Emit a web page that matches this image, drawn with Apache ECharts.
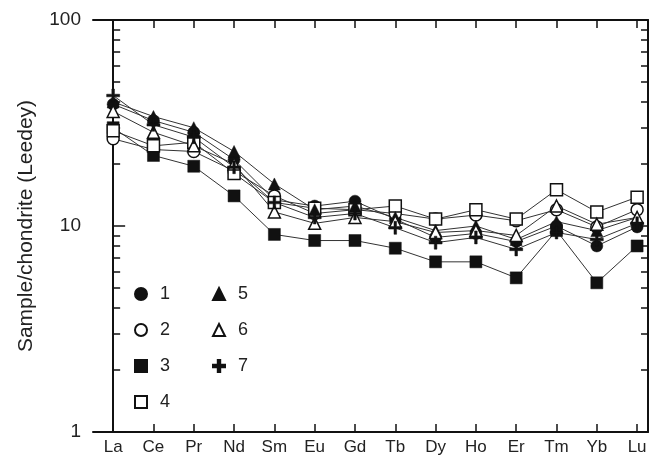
<!DOCTYPE html>
<html>
<head>
<meta charset="utf-8">
<script src="https://cdn.jsdelivr.net/npm/echarts@6/dist/echarts.min.js"></script>
<style>html,body{margin:0;padding:0;background:#fff}#c{width:654px;height:465px}</style>
</head>
<body>
<div id="c"></div>
<script>
const elements = ['La','Ce','Pr','Nd','Sm','Eu','Gd','Tb','Dy','Ho','Er','Tm','Yb','Lu'];
const s1 = [39, 32.5, 28.5, 21, 13.4, 12.5, 13.2, 10.8, 8.8, 9.2, 8.4, 10, 8.0, 9.9];
const s2 = [26.5, 23.5, 23, 18.5, 14, 11.5, 12, 11.5, 10.8, 11.3, 10.6, 12, 9.9, 12];
const s3 = [30, 22, 19.5, 14, 9.1, 8.5, 8.5, 7.8, 6.7, 6.7, 5.6, 9.5, 5.3, 8.0];
const s4 = [29, 24.5, 25.5, 18, 13, 12.2, 12, 12.5, 10.8, 12, 10.8, 15, 11.7, 13.8];
const s5 = [40, 34, 30, 23, 16, 12, 12.5, 11, 9.5, 10, 8.6, 10.5, 9.5, 11];
const s6 = [36, 28.5, 24.5, 20, 11.7, 10.3, 11, 10.5, 9.3, 9.5, 9, 12.5, 10.2, 11];
const s7 = [43, 31, 27, 19.3, 13, 11, 11.5, 9.8, 8.3, 8.8, 7.7, 9.3, 8.6, 10.3];
const yMajor = [1, 10, 100];
const yMinor = [2,3,4,5,6,7,8,9,20,30,40,50,60,70,80,90];

const plus = 'path://M4,0H6V4H10V6H6V10H4V6H0V4H4Z';
const defs = [
  {name:'1', data:s1, symbol:'circle', fill:'#111'},
  {name:'2', data:s2, symbol:'circle', fill:'#fff'},
  {name:'3', data:s3, symbol:'rect', fill:'#111'},
  {name:'4', data:s4, symbol:'rect', fill:'#fff'},
  {name:'5', data:s5, symbol:'triangle', fill:'#111'},
  {name:'6', data:s6, symbol:'triangle', fill:'#fff'},
  {name:'7', data:s7, symbol:plus, fill:'#111'}
];
const idx = elements.map((_, i) => i);
const font = 'Liberation Sans, Arial, sans-serif';

const series = defs.map(d => ({
  name: d.name, type: 'line',
  data: d.data.map((v, i) => [i, v]),
  symbol: d.symbol,
  symbolSize: d.symbol === plus ? 13 : 12,
  lineStyle: {color: '#333', width: 1},
  itemStyle: {color: d.fill, borderColor: '#111', borderWidth: d.fill === '#fff' ? 1.5 : 0.5},
  emphasis: {disabled: true},
  animation: false
}));

const legendCommon = {
  orient: 'vertical', itemWidth: 12, itemHeight: 12, itemGap: 18,
  textStyle: {fontFamily: font, fontSize: 18, color: '#222', padding: [0, 0, 0, 8]},
  selectedMode: false
};

const chart = echarts.init(document.getElementById('c'));
chart.setOption({
  animation: false,
  backgroundColor: '#fff',
  grid: {left: 93, right: 6, top: 20, bottom: 33},
  legend: [
    Object.assign({left: 129, top: 280, data: defs.slice(0,4).map(d => ({name: d.name, icon: d.symbol}))}, legendCommon),
    Object.assign({left: 207, top: 280, data: defs.slice(4).map(d => ({name: d.name, icon: d.symbol}))}, legendCommon)
  ],
  xAxis: [
    {type: 'value', min: -0.5, max: 13.27, position: 'bottom',
     axisLine: {show: true, lineStyle: {color: '#111', width: 2}},
     axisTick: {show: true, inside: true, length: 8, customValues: idx, lineStyle: {color: '#111', width: 1.5}},
     axisLabel: {customValues: idx, formatter: v => elements[Math.round(v)], margin: 7,
                 fontFamily: font, fontSize: 17, color: '#222'},
     splitLine: {show: false}},
    {type: 'value', min: -0.5, max: 13.27, position: 'top',
     axisLine: {show: true, lineStyle: {color: '#111', width: 2}},
     axisTick: {show: true, inside: true, length: 8, customValues: idx, lineStyle: {color: '#111', width: 1.5}},
     axisLabel: {show: false}, splitLine: {show: false}}
  ],
  yAxis: [
    {type: 'log', min: 1, max: 100, logBase: 10, position: 'left',
     name: 'Sample/chondrite (Leedey)', nameLocation: 'middle', nameGap: 56,
     nameTextStyle: {fontFamily: font, fontSize: 21, color: '#222'},
     axisLine: {show: true, lineStyle: {color: '#111', width: 2}},
     axisTick: {show: true, inside: true, length: 12, customValues: yMajor, lineStyle: {color: '#111', width: 1.5}},
     axisLabel: {customValues: yMajor, margin: 12, fontFamily: font, fontSize: 19, color: '#222'},
     splitLine: {show: false}},
    {type: 'log', min: 1, max: 100, logBase: 10, position: 'left',
     axisLine: {show: false},
     axisTick: {show: true, inside: true, length: 7, customValues: yMinor, lineStyle: {color: '#111', width: 1.5}},
     axisLabel: {show: false}, splitLine: {show: false}},
    {type: 'log', min: 1, max: 100, logBase: 10, position: 'right',
     axisLine: {show: true, lineStyle: {color: '#111', width: 2}},
     axisTick: {show: true, inside: true, length: 12, customValues: yMajor, lineStyle: {color: '#111', width: 1.5}},
     axisLabel: {show: false}, splitLine: {show: false}},
    {type: 'log', min: 1, max: 100, logBase: 10, position: 'right',
     axisLine: {show: false},
     axisTick: {show: true, inside: true, length: 7, customValues: yMinor, lineStyle: {color: '#111', width: 1.5}},
     axisLabel: {show: false}, splitLine: {show: false}}
  ],
  series: series
});
</script>
</body>
</html>
